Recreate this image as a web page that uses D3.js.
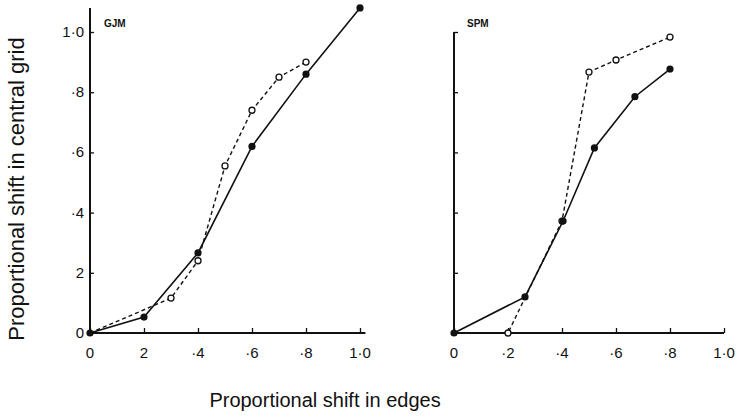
<!DOCTYPE html>
<html><head><meta charset="utf-8">
<script src="https://cdn.jsdelivr.net/npm/d3@7"></script>
<style>body{margin:0;background:#fff}svg{display:block}text{font-family:"Liberation Sans",Arial,sans-serif;fill:#111}</style>
</head><body><svg id="c" width="737" height="416"></svg>
<script>
// Data
const tickValues = [0, 0.2, 0.4, 0.6, 0.8, 1.0];
const gjmYTickLabels = ["0", "2", "·4", "·6", "·8", "1·0"];
const gjmXTickLabels = ["0", "2", "·4", "·6", "·8", "1·0"];
const spmXTickLabels = ["0", "·2", "·4", "·6", "·8", "1·0"];
const gjmFilledX = [0, 0.2, 0.4, 0.6, 0.8, 1.0];
const gjmFilledY = [0, 0.053, 0.266, 0.62, 0.86, 1.08];
const gjmOpenX = [0, 0.3, 0.4, 0.5, 0.6, 0.7, 0.8];
const gjmOpenY = [0, 0.116, 0.24, 0.555, 0.74, 0.85, 0.90];
const spmFilledX = [0, 0.263, 0.404, 0.52, 0.67, 0.80];
const spmFilledY = [0, 0.12, 0.372, 0.615, 0.785, 0.877];
const spmOpenX = [0, 0.2, 0.4, 0.5, 0.6, 0.8];
const spmOpenY = [0, 0, 0.372, 0.867, 0.907, 0.983];

const svg = d3.select("#c");
const y = d3.scaleLinear().domain([0, 1]).range([333, 32]);

function panel(opts) {
  const x = d3.scaleLinear().domain([0, 1]).range(opts.xr);
  const g = svg.append("g");
  // axes lines
  g.append("line").attr("x1", x(0)).attr("x2", x(opts.xMax)).attr("y1", y(0)).attr("y2", y(0))
    .attr("stroke", "#111").attr("stroke-width", 2);
  g.append("line").attr("x1", x(0)).attr("x2", x(0)).attr("y1", y(0)).attr("y2", y(opts.yMax))
    .attr("stroke", "#111").attr("stroke-width", 2);
  // x ticks (inward)
  const xa = d3.axisTop(x).tickValues(tickValues).tickSize(5).tickFormat("");
  g.append("g").attr("transform", `translate(0,${y(0)})`).call(xa)
    .call(s => s.select(".domain").remove())
    .call(s => s.selectAll(".tick line").attr("stroke", "#111").attr("stroke-width", 1.3));
  g.selectAll(".xl").data(tickValues).enter().append("text")
    .attr("x", d => x(d)).attr("y", 358).attr("text-anchor", "middle")
    .style("font-size", "15px").text((d, i) => opts.xLabels[i]);
  // y ticks (inward)
  const ya = d3.axisRight(y).tickValues(tickValues.slice(1)).tickSize(4).tickFormat("");
  g.append("g").attr("transform", `translate(${x(0)},0)`).call(ya)
    .call(s => s.select(".domain").remove())
    .call(s => s.selectAll(".tick line").attr("stroke", "#111").attr("stroke-width", 1.3));
  if (opts.yLabels) {
    g.selectAll(".yl").data(tickValues).enter().append("text")
      .attr("x", x(0) - 6).attr("y", d => y(d) + 5).attr("text-anchor", "end")
      .style("font-size", "15px").text((d, i) => opts.yLabels[i]);
  }
  // series
  const line = d3.line().x(d => x(d[0])).y(d => y(d[1]));
  const open = opts.openX.map((v, i) => [v, opts.openY[i]]);
  const filled = opts.filledX.map((v, i) => [v, opts.filledY[i]]);
  g.append("path").datum(open).attr("d", line).attr("fill", "none")
    .attr("stroke", "#111").attr("stroke-width", 1.4).attr("stroke-dasharray", "4,3");
  g.append("path").datum(filled).attr("d", line).attr("fill", "none")
    .attr("stroke", "#111").attr("stroke-width", 1.6);
  g.selectAll(".o").data(open.filter(d => d[0] > 0)).enter().append("circle")
    .attr("cx", d => x(d[0])).attr("cy", d => y(d[1])).attr("r", 3)
    .attr("fill", "#fff").attr("stroke", "#111").attr("stroke-width", 1.3);
  g.selectAll(".f").data(filled).enter().append("circle")
    .attr("cx", d => x(d[0])).attr("cy", d => y(d[1])).attr("r", 3.6).attr("fill", "#111");
  g.append("text").attr("x", opts.titleX).attr("y", 27).style("font-size", "10px")
    .style("font-weight", "bold").text(opts.title);
}

panel({xr: [90, 360], xMax: 1.02, yMax: 1.08, xLabels: gjmXTickLabels, yLabels: gjmYTickLabels,
  filledX: gjmFilledX, filledY: gjmFilledY, openX: gjmOpenX, openY: gjmOpenY, title: "GJM", titleX: 104});
panel({xr: [454, 724], xMax: 1.0, yMax: 1.0, xLabels: spmXTickLabels, yLabels: null,
  filledX: spmFilledX, filledY: spmFilledY, openX: spmOpenX, openY: spmOpenY, title: "SPM", titleX: 467});

svg.append("text").attr("x", 325).attr("y", 407).attr("text-anchor", "middle")
  .style("font-size", "20px").text("Proportional shift in edges");
svg.append("text").attr("transform", "translate(24,189) rotate(-90)").attr("text-anchor", "middle")
  .style("font-size", "22px").text("Proportional shift in central grid");
</script></body></html>
